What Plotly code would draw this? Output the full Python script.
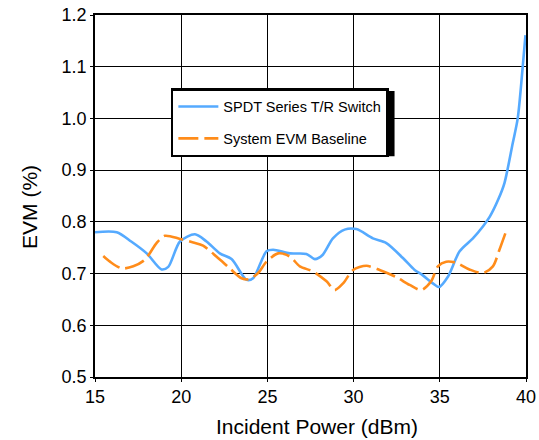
import plotly.graph_objects as go

switch_x = [15.0, 16.26, 17.1, 18.0, 18.86, 19.25, 19.93, 20.8, 21.47, 22.24, 22.92, 23.79, 24.17,
            24.95, 25.33, 26.3, 27.26, 27.75, 28.2, 28.8, 29.48, 30.16, 31.12, 31.9, 32.86, 33.54,
            34.0, 34.6, 34.95, 35.47, 36.15, 36.92, 37.5, 37.9, 38.4, 38.75, 39.23, 39.52, 39.81, 39.97]
switch_y = [0.780, 0.780, 0.762, 0.739, 0.708, 0.713, 0.762, 0.776, 0.762, 0.739, 0.728, 0.688, 0.691,
            0.743, 0.746, 0.739, 0.738, 0.728, 0.736, 0.768, 0.785, 0.786, 0.768, 0.759, 0.730, 0.707,
            0.697, 0.681, 0.674, 0.694, 0.743, 0.768, 0.791, 0.810, 0.844, 0.875, 0.952, 1.000, 1.100, 1.161]

base_x = [15.48, 15.87, 16.55, 17.22, 17.9, 18.57, 19.05, 19.93, 20.7, 21.27, 22.24, 22.82, 23.5, 23.94,
          24.46, 24.95, 25.62, 26.3, 26.88, 27.65, 28.43, 28.9, 29.39, 29.97, 30.74, 31.51, 32.48,
          33.25, 33.93, 34.5, 34.89, 35.37, 35.95, 36.72, 37.5, 38.08, 38.46, 38.89]
base_y = [0.734, 0.723, 0.710, 0.714, 0.727, 0.759, 0.773, 0.767, 0.760, 0.754, 0.727, 0.710, 0.691, 0.689,
          0.701, 0.723, 0.739, 0.733, 0.714, 0.704, 0.685, 0.668, 0.681, 0.707, 0.715, 0.707, 0.693,
          0.678, 0.668, 0.685, 0.714, 0.723, 0.721, 0.708, 0.701, 0.714, 0.746, 0.786]

x_ticks = [15, 20, 25, 30, 35, 40]
y_ticks = [0.5, 0.6, 0.7, 0.8, 0.9, 1.0, 1.1, 1.2]
y_labels = ["0.5", "0.6", "0.7", "0.8", "0.9", "1.0", "1.1", "1.2"]

BLUE = "#55aaff"
ORANGE = "#ff8c1a"

fig = go.Figure()
fig.add_trace(go.Scatter(x=switch_x, y=switch_y, mode="lines", name="SPDT Series T/R Switch",
                         line=dict(color=BLUE, width=2.6, shape="spline", smoothing=0.8),
                         legendgroup="a"))
fig.add_trace(go.Scatter(x=base_x, y=base_y, mode="lines", name="System EVM Baseline",
                         line=dict(color=ORANGE, width=2.6, shape="spline", smoothing=0.8, dash="20px,6px"),
                         legendgroup="b"))

# legend shadow
fig.add_shape(type="rect", xref="paper", yref="paper", x0=0.183, x1=0.695, y0=0.610, y1=0.790,
              line=dict(width=0), fillcolor="black", layer="above")

# axis titles
fig.add_annotation(text="Incident Power (dBm)", xref="paper", yref="paper", x=0.514, y=-0.138,
                   xanchor="center", yanchor="middle", showarrow=False, font=dict(size=21))
fig.add_annotation(text="EVM (%)", xref="paper", yref="paper", x=-0.1506, y=0.47, textangle=-90,
                   xanchor="center", yanchor="middle", showarrow=False, font=dict(size=21))

fig.update_layout(
    width=539, height=440,
    margin=dict(l=95, r=13, t=15, b=63),
    paper_bgcolor="white", plot_bgcolor="white",
    font=dict(family="Liberation Sans, Arial", size=18, color="black"),
    showlegend=True,
    legend=dict(x=0.176, y=0.798, xanchor="left", yanchor="top",
                bgcolor="white", bordercolor="black", borderwidth=2.5,
                font=dict(size=14.5), tracegroupgap=10, itemwidth=40),
    xaxis=dict(range=[15, 40], tickvals=x_ticks, showgrid=True, gridcolor="black", gridwidth=1.2,
               showline=True, linecolor="black", linewidth=1.5, mirror=True,
               ticks="outside", ticklen=3, tickcolor="black", automargin=False,
               zeroline=False),
    yaxis=dict(range=[0.5, 1.2], tickvals=y_ticks, ticktext=y_labels, showgrid=True, gridcolor="black",
               gridwidth=1.2, showline=True, linecolor="black", linewidth=1.5, mirror=True,
               ticks="outside", ticklen=3, tickcolor="black", automargin=False,
               zeroline=False),
)

fig.write_html("out.html", config={"displayModeBar": False},
               post_script="document.body.style.margin='0';")
